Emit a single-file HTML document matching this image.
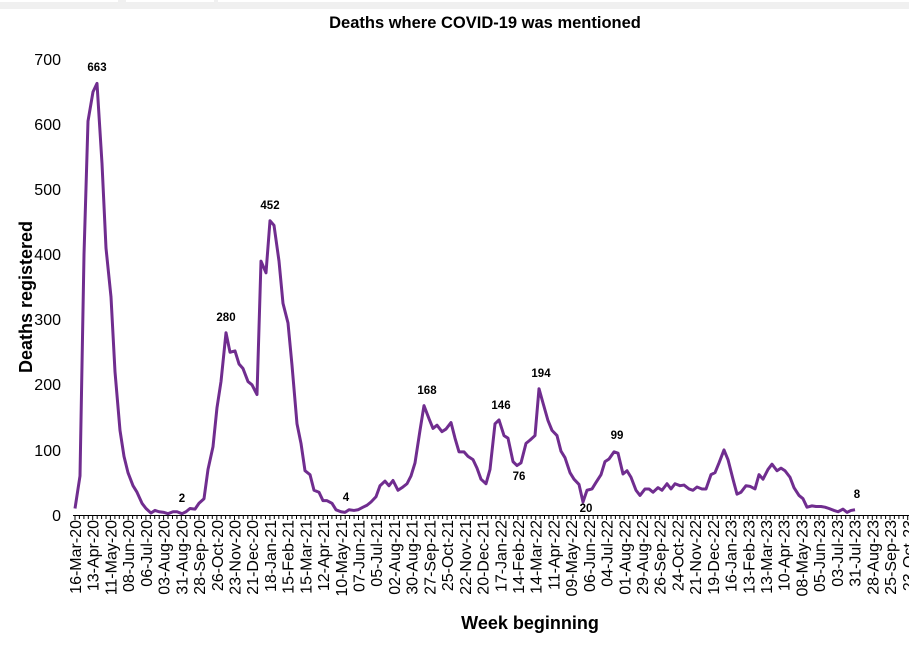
<!DOCTYPE html>
<html><head><meta charset="utf-8"><style>
html,body{margin:0;padding:0;background:#fff;}
svg{display:block;font-family:"Liberation Sans",Arial,sans-serif;}
</style></head><body>
<svg width="909" height="645" viewBox="0 0 909 645" xmlns="http://www.w3.org/2000/svg">
<rect x="0" y="0" width="909" height="9" fill="#f0f0f0"/>
<rect x="0" y="0" width="118" height="2" fill="#fff"/>
<rect x="126" y="0" width="88" height="2" fill="#fff"/>
<rect x="218" y="0" width="691" height="2" fill="#fff"/>
<text x="485" y="28" font-size="16.5" font-weight="bold" text-anchor="middle">Deaths where COVID-19 was mentioned</text>
<g font-size="16" text-anchor="end" fill="#000">
<text x="61" y="65">700</text><text x="61" y="130">600</text><text x="61" y="195">500</text>
<text x="61" y="260">400</text><text x="61" y="325">300</text><text x="61" y="390">200</text>
<text x="61" y="456">100</text><text x="61" y="521">0</text>
</g>
<text transform="translate(32,297) rotate(-90)" font-size="18" font-weight="bold" text-anchor="middle">Deaths registered</text>
<text x="530" y="629" font-size="18" font-weight="bold" text-anchor="middle">Week beginning</text>
<line x1="73" y1="515.5" x2="909" y2="515.5" stroke="#000" stroke-width="1"/>
<path d="M75 515v5M79.4 515v4M83.9 515v4M88.3 515v4M92.7 515v5M97.2 515v4M101.6 515v4M106 515v4M110.4 515v5M114.9 515v4M119.3 515v4M123.7 515v4M128.2 515v5M132.6 515v4M137 515v4M141.5 515v4M145.9 515v5M150.3 515v4M154.7 515v4M159.2 515v4M163.6 515v5M168 515v4M172.5 515v4M176.9 515v4M181.3 515v5M185.7 515v4M190.2 515v4M194.6 515v4M199 515v5M203.5 515v4M207.9 515v4M212.3 515v4M216.8 515v5M221.2 515v4M225.6 515v4M230 515v4M234.5 515v5M238.9 515v4M243.3 515v4M247.8 515v4M252.2 515v5M256.6 515v4M261 515v4M265.5 515v4M269.9 515v5M274.3 515v4M278.8 515v4M283.2 515v4M287.6 515v5M292 515v4M296.5 515v4M300.9 515v4M305.3 515v5M309.8 515v4M314.2 515v4M318.6 515v4M323.1 515v5M327.5 515v4M331.9 515v4M336.3 515v4M340.8 515v5M345.2 515v4M349.6 515v4M354.1 515v4M358.5 515v5M362.9 515v4M367.3 515v4M371.8 515v4M376.2 515v5M380.6 515v4M385.1 515v4M389.5 515v4M393.9 515v5M398.4 515v4M402.8 515v4M407.2 515v4M411.6 515v5M416.1 515v4M420.5 515v4M424.9 515v4M429.4 515v5M433.8 515v4M438.2 515v4M442.6 515v4M447.1 515v5M451.5 515v4M455.9 515v4M460.4 515v4M464.8 515v5M469.2 515v4M473.7 515v4M478.1 515v4M482.5 515v5M486.9 515v4M491.4 515v4M495.8 515v4M500.2 515v5M504.7 515v4M509.1 515v4M513.5 515v4M517.9 515v5M522.4 515v4M526.8 515v4M531.2 515v4M535.7 515v5M540.1 515v4M544.5 515v4M548.9 515v4M553.4 515v5M557.8 515v4M562.2 515v4M566.7 515v4M571.1 515v5M575.5 515v4M580 515v4M584.4 515v4M588.8 515v5M593.2 515v4M597.7 515v4M602.1 515v4M606.5 515v5M611 515v4M615.4 515v4M619.8 515v4M624.2 515v5M628.7 515v4M633.1 515v4M637.5 515v4M642 515v5M646.4 515v4M650.8 515v4M655.2 515v4M659.7 515v5M664.1 515v4M668.5 515v4M673 515v4M677.4 515v5M681.8 515v4M686.3 515v4M690.7 515v4M695.1 515v5M699.5 515v4M704 515v4M708.4 515v4M712.8 515v5M717.3 515v4M721.7 515v4M726.1 515v4M730.5 515v5M735 515v4M739.4 515v4M743.8 515v4M748.3 515v5M752.7 515v4M757.1 515v4M761.6 515v4M766 515v5M770.4 515v4M774.8 515v4M779.3 515v4M783.7 515v5M788.1 515v4M792.6 515v4M797 515v4M801.4 515v5M805.8 515v4M810.3 515v4M814.7 515v4M819.1 515v5M823.6 515v4M828 515v4M832.4 515v4M836.8 515v5M841.3 515v4M845.7 515v4M850.1 515v4M854.6 515v5M859 515v4M863.4 515v4M867.9 515v4M872.3 515v5M876.7 515v4M881.1 515v4M885.6 515v4M890 515v5M894.4 515v4M898.9 515v4M903.3 515v4M907.7 515v5" stroke="#000" stroke-width="1"/>
<g font-size="16" text-anchor="end" fill="#000">
<text transform="translate(81,520) rotate(-90)">16-Mar-20</text>
<text transform="translate(98.7,520) rotate(-90)">13-Apr-20</text>
<text transform="translate(116.4,520) rotate(-90)">11-May-20</text>
<text transform="translate(134.2,520) rotate(-90)">08-Jun-20</text>
<text transform="translate(151.9,520) rotate(-90)">06-Jul-20</text>
<text transform="translate(169.6,520) rotate(-90)">03-Aug-20</text>
<text transform="translate(187.3,520) rotate(-90)">31-Aug-20</text>
<text transform="translate(205,520) rotate(-90)">28-Sep-20</text>
<text transform="translate(222.8,520) rotate(-90)">26-Oct-20</text>
<text transform="translate(240.5,520) rotate(-90)">23-Nov-20</text>
<text transform="translate(258.2,520) rotate(-90)">21-Dec-20</text>
<text transform="translate(275.9,520) rotate(-90)">18-Jan-21</text>
<text transform="translate(293.6,520) rotate(-90)">15-Feb-21</text>
<text transform="translate(311.3,520) rotate(-90)">15-Mar-21</text>
<text transform="translate(329.1,520) rotate(-90)">12-Apr-21</text>
<text transform="translate(346.8,520) rotate(-90)">10-May-21</text>
<text transform="translate(364.5,520) rotate(-90)">07-Jun-21</text>
<text transform="translate(382.2,520) rotate(-90)">05-Jul-21</text>
<text transform="translate(399.9,520) rotate(-90)">02-Aug-21</text>
<text transform="translate(417.7,520) rotate(-90)">30-Aug-21</text>
<text transform="translate(435.4,520) rotate(-90)">27-Sep-21</text>
<text transform="translate(453.1,520) rotate(-90)">25-Oct-21</text>
<text transform="translate(470.8,520) rotate(-90)">22-Nov-21</text>
<text transform="translate(488.5,520) rotate(-90)">20-Dec-21</text>
<text transform="translate(506.3,520) rotate(-90)">17-Jan-22</text>
<text transform="translate(524,520) rotate(-90)">14-Feb-22</text>
<text transform="translate(541.7,520) rotate(-90)">14-Mar-22</text>
<text transform="translate(559.4,520) rotate(-90)">11-Apr-22</text>
<text transform="translate(577.1,520) rotate(-90)">09-May-22</text>
<text transform="translate(594.8,520) rotate(-90)">06-Jun-22</text>
<text transform="translate(612.6,520) rotate(-90)">04-Jul-22</text>
<text transform="translate(630.3,520) rotate(-90)">01-Aug-22</text>
<text transform="translate(648,520) rotate(-90)">29-Aug-22</text>
<text transform="translate(665.7,520) rotate(-90)">26-Sep-22</text>
<text transform="translate(683.4,520) rotate(-90)">24-Oct-22</text>
<text transform="translate(701.2,520) rotate(-90)">21-Nov-22</text>
<text transform="translate(718.9,520) rotate(-90)">19-Dec-22</text>
<text transform="translate(736.6,520) rotate(-90)">16-Jan-23</text>
<text transform="translate(754.3,520) rotate(-90)">13-Feb-23</text>
<text transform="translate(772,520) rotate(-90)">13-Mar-23</text>
<text transform="translate(789.7,520) rotate(-90)">10-Apr-23</text>
<text transform="translate(807.5,520) rotate(-90)">08-May-23</text>
<text transform="translate(825.2,520) rotate(-90)">05-Jun-23</text>
<text transform="translate(842.9,520) rotate(-90)">03-Jul-23</text>
<text transform="translate(860.6,520) rotate(-90)">31-Jul-23</text>
<text transform="translate(878.3,520) rotate(-90)">28-Aug-23</text>
<text transform="translate(896.1,520) rotate(-90)">25-Sep-23</text>
<text transform="translate(913.8,520) rotate(-90)">23-Oct-23</text>
</g>
<g transform="translate(0,515) scale(1,-0.651)">
<polyline fill="none" stroke="#702d8f" stroke-width="3" stroke-linejoin="round" vector-effect="non-scaling-stroke" points="75,10 80,60 84,400 88,605 93,650 97,663 102,540 106,410 111,335 115,220 120,130 124,90 128,65 133,45 137,35 142,18 146,10 151,3 155,7 159,5 164,4 168,2 173,5 177,5 182,2 186,5 190,10 195,9 199,18 204,25 208,70 213,105 217,165 221,205 226,280 230,250 235,252 239,232 243,225 248,205 252,200 257,185 261,390 266,372 270,452 274,445 279,390 283,325 288,295 292,230 297,140 301,110 305,68 310,62 314,38 319,35 323,22 327,22 332,18 336,8 341,5 345,4 349,8 354,7 358,8 363,12 367,15 371,20 376,28 380,45 385,52 389,45 393,53 398,38 402,42 407,48 411,60 415,80 420,130 424,168 429,148 433,133 437,138 442,128 446,132 451,142 455,118 459,97 464,97 468,90 473,85 477,72 481,55 486,48 490,70 495,140 499,146 504,122 508,118 513,82 517,76 521,80 526,110 530,115 535,122 539,194 543,172 548,145 552,130 557,122 561,98 565,88 570,65 574,55 579,47 583,20 587,38 592,40 596,50 601,62 605,82 609,86 614,97 618,95 623,63 627,68 631,58 636,38 640,30 645,40 649,40 653,35 658,42 662,38 667,48 671,40 675,48 680,45 684,46 689,40 693,38 697,43 702,40 706,40 711,62 715,65 719,80 724,100 728,85 733,55 737,32 741,35 746,45 750,44 755,40 759,62 763,55 768,70 772,78 777,68 781,72 785,68 790,58 794,42 799,30 803,25 807,12 812,14 816,13 821,13 825,12 829,10 834,7 838,5 843,9 847,4 851,7 855,8"/>
</g>
<g font-size="11.5" font-weight="bold" text-anchor="middle" fill="#000">
<text x="97" y="71">663</text>
<text x="270" y="209">452</text>
<text x="226" y="321">280</text>
<text x="182" y="502">2</text>
<text x="346" y="501">4</text>
<text x="427" y="394">168</text>
<text x="501" y="409">146</text>
<text x="519" y="480">76</text>
<text x="541" y="377">194</text>
<text x="586" y="512">20</text>
<text x="617" y="439">99</text>
<text x="857" y="498">8</text>
</g>
</svg>
</body></html>
